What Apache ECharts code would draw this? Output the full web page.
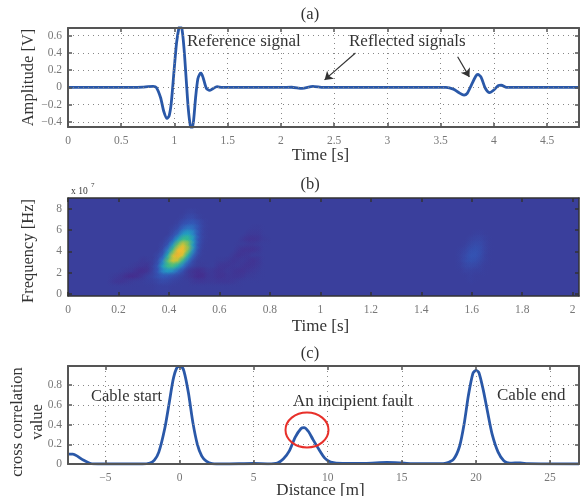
<!DOCTYPE html>
<html><head><meta charset="utf-8">
<style>html,body{margin:0;padding:0;background:#fff;overflow:hidden}#c{width:580px;height:496px;filter:blur(0.4px)}</style>
<script src="https://cdn.jsdelivr.net/npm/echarts@6/dist/echarts.min.js"></script>
</head><body><div id="c"></div>
<script>
// Panel (a): signal
const signalTime = [0,0.3,0.6,0.7,0.75,0.8,0.83,0.87,0.9,0.93,0.95,0.97,1.0,1.02,1.04,1.05,1.07,1.09,1.11,1.13,1.15,1.165,1.18,1.2,1.22,1.24,1.25,1.27,1.3,1.33,1.36,1.4,1.45,2.0,2.1,2.2,2.3,2.4,3.0,3.55,3.62,3.67,3.72,3.75,3.79,3.83,3.85,3.88,3.92,3.96,4.0,4.04,4.07,4.12,4.8];
const signalAmp = [0,0,0,0.003,0.01,0.012,0,-0.12,-0.28,-0.36,-0.33,-0.18,0.25,0.52,0.68,0.71,0.68,0.45,0.1,-0.25,-0.45,-0.48,-0.38,-0.1,0.1,0.16,0.165,0.11,-0.01,-0.035,-0.015,0.008,0,0,0.002,-0.012,0.012,0,0,0,-0.02,-0.06,-0.09,-0.07,0.03,0.13,0.15,0.12,-0.01,-0.06,-0.03,0.02,0.025,0,0];
const ticksAX = [0,0.5,1,1.5,2,2.5,3,3.5,4,4.5];
const ticksAY = [-0.4,-0.2,0,0.2,0.4,0.6];
// Panel (b): time-frequency map
const heatTimes = [0.16,0.18,0.20,0.22,0.24,0.26,0.28,0.30,0.32,0.34,0.36,0.38,0.40,0.42,0.44,0.46,0.48,0.50,0.52,0.54,0.56,0.58,0.60,0.62,0.64,0.66,0.68,0.70,0.72,0.74,0.76,0.78];
const heatFreqs = [7.5,7,6.5,6,5.5,5,4.5,4,3.5,3,2.5,2,1.5,1,0.5];
const heatRows = [
[0,0,0,0,0,0,0,0,0,0,0,0,0,0,0,0,0.2,0.2,0,0,0,0,0,0,0,0,0,0,0,0,0,0],
[0,0,0,0,0,0,0,0,0,0,0,0,0,0,0,0.2,0.5,0.5,0.2,0,0,0,0,0,0,0,0,0,0,0,0,0],
[0,0,0,0,0,0,0,0,0,0,0,0,0,0,0.2,0.7,1.0,1.1,0.7,0.2,0,0,0,0,0,0,0,0,0,0,0,0],
[0,0,0,0,0,0,0,0,0,0,0,0,0,0.2,0.6,1.4,1.8,1.6,0.9,0.2,0,0,0,0,0,0,0,0,0,-0.1,-0.1,0],
[0,0,0,0,0,0,0,0,0,0,0,0,0,0.5,1.3,2.6,3.0,2.2,1.0,0.2,0,0,0,0,0,0,0,0,-0.2,-0.2,-0.2,0],
[0,0,0,0,0,0,0,0,0,0,0,0,0.4,1.2,2.8,4.6,4.4,2.7,1.0,0.2,0,0,0,0,0,0,0,-0.3,-0.5,-0.5,-0.4,-0.1],
[0,0,0,0,0,0,0,0,0,0,0,0.2,0.9,2.6,5.5,7.6,5.8,2.8,0.9,0.1,0,0,0,0,0,0,-0.1,-0.1,-0.2,-0.2,-0.1,0],
[0,0,0,0,0,0,0,0,0,0,0,0.5,1.9,4.8,8.6,9.0,6.0,2.5,0.7,0,0,0,0,0,0,0,-0.3,-0.5,-0.5,-0.5,-0.3,0],
[0,0,0,0,0,0,0,0,0,0,0.3,1.1,3.4,7.2,9.6,7.6,4.0,1.5,0.3,0,0,0,0,0,0,-0.2,-0.5,-0.4,-0.3,-0.1,-0.1,0],
[0,0,0,0,0,0,0,-0.2,-0.1,0,0.6,2.0,5.2,7.6,7.0,4.4,1.9,0.6,0,0,0,0,-0.1,-0.1,-0.2,-0.4,-0.3,-0.2,-0.4,-0.5,-0.3,0],
[0,0,0,0,0,-0.1,-0.2,-0.3,-0.4,0.1,1.0,2.8,4.6,5.0,3.8,2.0,0.8,0.2,-0.1,-0.1,0,0,-0.3,-0.4,-0.4,-0.3,-0.2,-0.4,-0.5,-0.4,-0.2,0],
[0,0,0,-0.1,-0.2,-0.3,-0.6,-0.7,-0.5,0.2,1.0,2.2,2.8,2.4,1.5,0.7,-0.2,-0.5,-0.7,-0.5,-0.2,-0.3,-0.5,-0.4,-0.2,-0.4,-0.5,-0.5,-0.3,-0.2,-0.1,0],
[0,-0.1,-0.2,-0.4,-0.7,-0.8,-0.6,-0.3,0.1,0.3,0.8,1.1,1.0,0.7,0.4,0.1,-0.2,-0.5,-0.8,-0.7,-0.3,-0.3,-0.5,-0.5,-0.3,-0.4,-0.4,-0.3,-0.1,-0.1,0,0],
[0,-0.2,-0.4,-0.4,-0.2,-0.1,0,0,0.1,0.1,0.3,0.5,0.4,0.2,0.1,0,0,-0.2,-0.3,-0.3,-0.2,-0.2,-0.3,-0.3,-0.3,-0.2,-0.1,0,0,0,0,0],
[0,0,0,0,0,0,0,0,0,0,0.1,0.1,0.1,0,0,0,0,0,0,0,0,0,0,0,0,0,0,0,0,0,0,0]
];
const faintTimes = [1.54,1.56,1.58,1.60,1.62,1.64,1.66,1.68];
const faintFreqs = [5.5,5,4.5,4,3.5,3,2.5,2,1.5];
const faintRows = [
[0,0,0,0,0.1,0.1,0,0],
[0,0,0,0.2,0.3,0.3,0.1,0],
[0,0,0.1,0.4,0.6,0.5,0.2,0],
[0,0.1,0.3,0.7,0.8,0.6,0.2,0],
[0,0.2,0.5,0.9,0.9,0.6,0.1,0],
[0,0.2,0.6,0.8,0.7,0.4,0.1,0],
[0,0.1,0.4,0.5,0.4,0.2,0,0],
[0,0,0.2,0.2,0.1,0.1,0,0],
[0,0,0,0.1,0,0,0,0]
];
const ticksBX = [0,0.2,0.4,0.6,0.8,1,1.2,1.4,1.6,1.8,2];
const ticksBY = [0,2,4,6,8];
// Panel (c): cross correlation
const corrDist = [-7.53,-7.2,-6.9,-6.5,-6,-5.5,-2.5,-2,-1.7,-1.4,-1,-0.7,-0.4,-0.1,0.1,0.3,0.6,0.9,1.2,1.5,1.8,2.2,3,5,6,6.6,7,7.4,7.8,8.2,8.4,8.7,9,9.4,9.8,10.2,11,12.5,14,15,16,17.5,18,18.5,18.9,19.2,19.5,19.8,20,20.2,20.5,20.8,21.1,21.5,21.9,22.3,23,23.5,26.96];
const corrVal = [0.1,0.1,0.08,0.04,0.005,0,0,0.01,0.04,0.12,0.36,0.62,0.88,0.99,0.99,0.94,0.72,0.42,0.2,0.08,0.03,0.005,0,0.005,0.002,0.01,0.05,0.13,0.27,0.36,0.37,0.33,0.25,0.15,0.06,0.02,0.005,0.005,0.015,0.01,0.003,0.003,0.01,0.05,0.18,0.4,0.7,0.92,0.95,0.93,0.75,0.52,0.3,0.12,0.03,0.008,0.012,0.003,0];
const ticksCX = [-5,0,5,10,15,20,25];
const ticksCY = [0,0.2,0.4,0.6,0.8];
const refArrows = [[[2.70,0.40],[2.41,0.087]],[[3.66,0.356],[3.77,0.122]]];

const serif = '"Liberation Serif","Times New Roman",serif';
const frame = '#555', tickCol = '#777', textCol = '#333', blue = '#2a58a8';
const fmt = v => String(v).replace('-', '\u2212');

function xAxes(g, min, max, ticks, name, gap, dots, col, w) {
  const base = {type:'value', gridIndex:g, min, max, z:5,
    axisLine:{show:true,onZero:false,lineStyle:{color:col,width:w}},
    axisTick:{show:true,inside:true,length:4,customValues:ticks,lineStyle:{color:col,width:1.5}}};
  return [
    {...base, position:'bottom', name, nameLocation:'middle', nameGap:gap, nameMoveOverlap:false,
      nameTextStyle:{fontFamily:serif,fontSize:17,color:textCol,padding:[0,6,0,0]},
      axisLabel:{show:true,customValues:ticks,formatter:fmt,margin:8,fontFamily:serif,fontSize:11.5,color:tickCol},
      splitLine:{show:dots,lineStyle:{type:[1,4],color:'#888',width:1}}},
    {...base, position:'top', axisLabel:{show:false}, splitLine:{show:false}}
  ];
}
function yAxes(g, min, max, ticks, name, gap, shift, dots, col, w) {
  const base = {type:'value', gridIndex:g, min, max, z:5,
    axisLine:{show:true,onZero:false,lineStyle:{color:col,width:w}},
    axisTick:{show:true,inside:true,length:4,customValues:ticks,lineStyle:{color:col,width:1.5}}};
  return [
    {...base, position:'left', name, nameLocation:'middle', nameGap:gap, nameRotate:90, nameMoveOverlap:false,
      nameTextStyle:{fontFamily:serif,fontSize:16.5,color:textCol,lineHeight:20,padding:[0,shift,0,0]},
      axisLabel:{show:true,customValues:ticks,formatter:fmt,margin:6,fontFamily:serif,fontSize:11.5,color:tickCol},
      splitLine:{show:dots,lineStyle:{type:[1,4],color:'#888',width:1}}},
    {...base, position:'right', axisLabel:{show:false}, splitLine:{show:false}}
  ];
}
function cells(times, freqs, rows) {
  const out = [];
  rows.forEach((r, j) => r.forEach((v, i) => out.push([times[i], freqs[j], v])));
  return out;
}
function renderCell(params, api) {
  const c = api.coord([api.value(0), api.value(1)]);
  const col = api.visual('color');
  const R = 7;
  return {type:'circle', shape:{cx:c[0], cy:c[1], r:R},
    style:{fill:new echarts.graphic.RadialGradient(0.5,0.5,0.5,[
      {offset:0,color:col},{offset:0.3,color:echarts.color.modifyAlpha(col,0.85)},{offset:1,color:echarts.color.modifyAlpha(col,0)}])}};
}
const label = (text, x, y, size, align) => ({type:'text', x, y, z:20,
  style:{text, fontFamily:serif, fontSize:size||17, fill:textCol, align:align||'center', verticalAlign:'middle'}});

const chart = echarts.init(document.getElementById('c'), null, {renderer:'canvas'});
const gridBase = {left:68,width:511,outerBoundsMode:'none'};
chart.setOption({
  animation:false,
  backgroundColor:'#fff',
  grid:[
    {...gridBase,top:28,height:99},
    {...gridBase,top:198,height:98,show:true,backgroundColor:'#3a3f9c',borderWidth:0},
    {...gridBase,top:366,height:98}
  ],
  xAxis:[
    ...xAxes(0,0,4.8,ticksAX,'Time [s]',20,true,frame,2),
    ...xAxes(1,0,2.025,ticksBX,'Time [s]',22,false,'#333',1.5),
    ...xAxes(2,-7.53,26.96,ticksCX,'Distance [m]',18,true,frame,2)
  ],
  yAxis:[
    ...yAxes(0,-0.46,0.69,ticksAY,'Amplitude [V]',29,0,true,frame,2),
    ...yAxes(1,-0.2,9,ticksBY,'Frequency [Hz]',29,8,false,'#333',1.5),
    ...yAxes(2,0,0.995,ticksCY,'cross correlation\nvalue',20,14,true,frame,2)
  ],
  visualMap:{show:false,type:'continuous',min:-1,max:10,seriesIndex:[1,2],dimension:2,
    inRange:{color:['#47288a','#3a3f9c','#3355b5','#2b7fc8','#1fa5c0','#22b8a0','#4cc07a','#8cc450','#c0c838','#e8c52e','#f7bd2c','#f9ae30']}},
  series:[
    {type:'line',xAxisIndex:0,yAxisIndex:0,data:signalTime.map((t,i)=>[t,signalAmp[i]]),
      showSymbol:false,smooth:0.25,lineStyle:{color:blue,width:2.8},clip:true,z:3,
      markLine:{silent:true,symbol:['none','arrow'],symbolSize:8,label:{show:false},
        lineStyle:{color:'#333',width:1.2,type:'solid'},
        data:refArrows.map(a=>[{coord:a[0]},{coord:a[1]}])}},
    {type:'custom',xAxisIndex:2,yAxisIndex:2,renderItem:renderCell,data:cells(heatTimes,heatFreqs,heatRows),encode:{x:0,y:1}},
    {type:'custom',xAxisIndex:2,yAxisIndex:2,renderItem:renderCell,data:cells(faintTimes,faintFreqs,faintRows),encode:{x:0,y:1}},
    {type:'line',xAxisIndex:4,yAxisIndex:4,data:corrDist.map((d,i)=>[d,corrVal[i]]),
      showSymbol:false,smooth:0.25,lineStyle:{color:blue,width:2.8},z:3}
  ],
  graphic:[
    label('(a)',310,15,16.5), label('(b)',310,185,16.5), label('(c)',310,354,16.5),
    label('Reference signal',187,42,17,'left'),
    label('Reflected signals',349,42,17,'left'),
    label('Cable start',91,397,16.5,'left'),
    label('An incipient fault',293,402,17,'left'),
    label('Cable end',497,396,17,'left'),
    label('x 10',71,191,9.5,'left'),
    label('7',91,185,7,'left'),
    {type:'ellipse',z:20,shape:{cx:307,cy:430,rx:21.5,ry:17.5},style:{fill:'none',stroke:'#e8302a',lineWidth:2}}
  ]
});
</script></body></html>
